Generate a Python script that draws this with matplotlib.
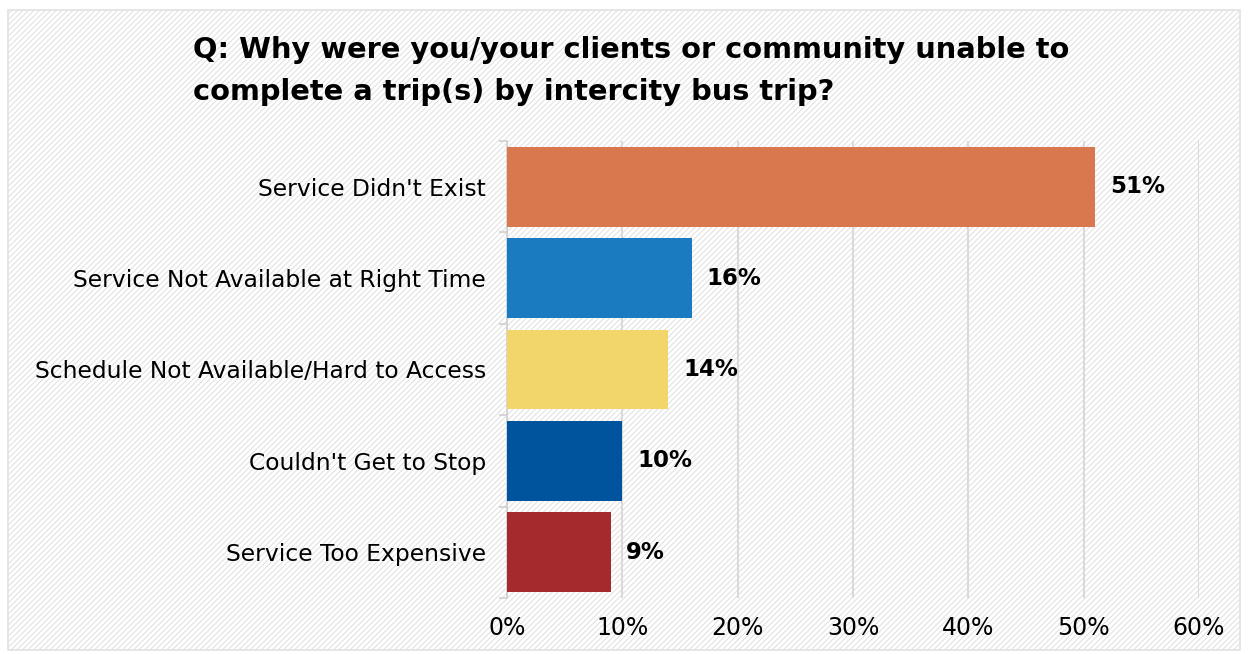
import matplotlib.pyplot as plt
from matplotlib.patches import Rectangle

categories = ["Service Didn't Exist",
              "Service Not Available at Right Time",
              "Schedule Not Available/Hard to Access",
              "Couldn't Get to Stop",
              "Service Too Expensive"]
values = [51, 16, 14, 10, 9]
colors = ['#d9774f', '#1b7bc1', '#f2d66b', '#00539d', '#a52a2d']
ticks = [0, 10, 20, 30, 40, 50, 60]

plt.rcParams['font.family'] = ['DejaVu Sans']
plt.rcParams['hatch.color'] = '#f0f0f0'
plt.rcParams['hatch.linewidth'] = 0.8

fig = plt.figure(figsize=(12.48, 6.54), dpi=100)
fig.patch.set_facecolor('white')

# hatched panel with a thin grey border, kept behind the axes
panel = Rectangle((8 / 1248, 4 / 654), 1232 / 1248, 640 / 654, transform=fig.transFigure,
                  facecolor='white', edgecolor='#e2e2e2', hatch='//////', lw=1.2, zorder=-1)
fig.patches.append(panel)

ax = fig.add_axes([507 / 1248, 56 / 654, 692 / 1248, 457 / 654])
ax.patch.set_alpha(0)

y = list(range(len(categories)))
ax.barh(y, values, height=0.875, color=colors, zorder=3)
ax.set_ylim(len(categories) - 0.5, -0.5)
ax.set_xlim(0, 60)

for yi, v in zip(y, values):
    ax.text(v + 1.3, yi, f'{v}%', va='center', ha='left', fontsize=16.5,
            fontweight='bold', color='black')

ax.set_xticks(ticks)
ax.set_xticklabels([f'{t}%' for t in ticks], fontsize=17)
ax.tick_params(axis='x', length=0, pad=13)
ax.set_yticks(y)
ax.set_yticklabels(categories, fontsize=16.8)
ax.tick_params(axis='y', length=0, pad=15)

# category separators on the left axis
ax.set_yticks([i - 0.5 for i in range(len(categories) + 1)], minor=True)
ax.tick_params(axis='y', which='minor', length=6, color='#d0d0d0', width=1.2)

ax.grid(axis='x', color='#dadada', lw=1.5, zorder=0)
for s in ['top', 'right', 'bottom']:
    ax.spines[s].set_visible(False)
ax.spines['left'].set_color('#d0d0d0')
ax.spines['left'].set_linewidth(1.2)

fig.text(193 / 1248, 1 - 71 / 654,
         'Q: Why were you/your clients or community unable to\ncomplete a trip(s) by intercity bus trip?',
         fontsize=20.8, fontweight='bold', va='center', ha='left', linespacing=1.6)

fig.savefig('out.png', dpi=100)
